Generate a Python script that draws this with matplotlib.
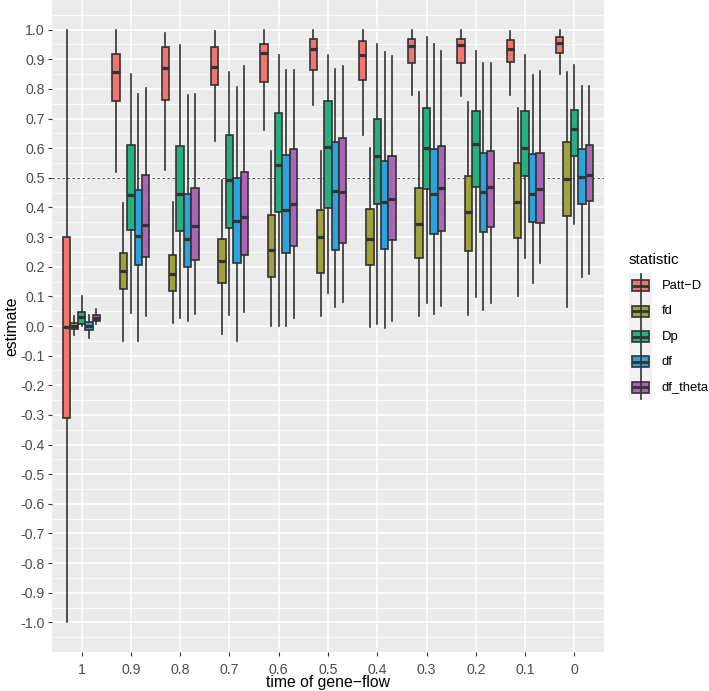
import numpy as np
import matplotlib.pyplot as plt
from matplotlib.patches import Rectangle

plt.rcParams["font.family"] = ["Liberation Sans", "DejaVu Sans"]

# ------------------------------------------------------------
# data (one row per statistic, 11 groups)
# ------------------------------------------------------------
groups = ["1", "0.9", "0.8", "0.7", "0.6", "0.5", "0.4", "0.3", "0.2", "0.1", "0"]
statistics = ["Patt\u2212D", "fd", "Dp", "df", "df_theta"]
colors = ["#F0766F", "#A0A33C", "#26AF7F", "#2BA3DC", "#A866B4"]

whisker_low = [
    [-1.0, 0.519, 0.527, 0.624, 0.662, 0.746, 0.645, 0.781, 0.776, 0.781, 0.851],
    [-0.03, -0.05, 0.01, -0.028, 0.0, 0.033, -0.003, 0.035, 0.037, 0.1, 0.064],
    [0.0, 0.044, 0.027, 0.036, 0.0, 0.112, 0.006, 0.078, 0.098, 0.229, 0.345],
    [-0.04, -0.05, 0.016, -0.05, 0.0, 0.064, -0.006, 0.042, 0.055, 0.145, 0.165],
    [0.006, 0.033, 0.042, 0.047, 0.027, 0.08, 0.017, 0.067, 0.078, 0.213, 0.176],
]
lower_q = [
    [-0.31, 0.758, 0.764, 0.813, 0.824, 0.863, 0.83, 0.888, 0.887, 0.89, 0.922],
    [-0.01, 0.125, 0.117, 0.146, 0.167, 0.179, 0.207, 0.228, 0.252, 0.298, 0.37],
    [0.008, 0.325, 0.322, 0.331, 0.384, 0.397, 0.411, 0.461, 0.469, 0.506, 0.572],
    [-0.012, 0.207, 0.2, 0.213, 0.246, 0.258, 0.261, 0.309, 0.316, 0.351, 0.412],
    [0.017, 0.234, 0.222, 0.238, 0.27, 0.279, 0.29, 0.32, 0.335, 0.348, 0.421],
]
median = [
    [-0.005, 0.856, 0.871, 0.875, 0.92, 0.933, 0.916, 0.945, 0.947, 0.936, 0.956],
    [0.0, 0.184, 0.176, 0.219, 0.255, 0.299, 0.292, 0.345, 0.385, 0.417, 0.497],
    [0.03, 0.443, 0.447, 0.493, 0.544, 0.604, 0.574, 0.599, 0.615, 0.599, 0.664],
    [0.0, 0.302, 0.294, 0.353, 0.39, 0.455, 0.417, 0.444, 0.452, 0.444, 0.503],
    [0.028, 0.342, 0.336, 0.367, 0.412, 0.451, 0.428, 0.467, 0.469, 0.462, 0.508],
]
upper_q = [
    [0.30, 0.918, 0.94, 0.943, 0.952, 0.969, 0.962, 0.97, 0.967, 0.965, 0.976],
    [0.01, 0.247, 0.238, 0.292, 0.373, 0.393, 0.394, 0.467, 0.506, 0.549, 0.62],
    [0.047, 0.612, 0.606, 0.646, 0.718, 0.758, 0.7, 0.735, 0.727, 0.727, 0.73],
    [0.013, 0.458, 0.445, 0.499, 0.578, 0.622, 0.558, 0.598, 0.584, 0.581, 0.598],
    [0.038, 0.511, 0.467, 0.519, 0.597, 0.636, 0.573, 0.608, 0.591, 0.584, 0.611],
]
whisker_high = [
    [1.0, 0.999, 0.99, 0.997, 0.999, 0.999, 0.999, 0.999, 0.999, 0.994, 1.0],
    [0.033, 0.415, 0.42, 0.491, 0.592, 0.592, 0.602, 0.789, 0.755, 0.736, 0.856],
    [0.10, 0.851, 0.949, 0.858, 0.915, 0.915, 0.953, 0.974, 0.927, 0.915, 0.881],
    [0.036, 0.783, 0.781, 0.806, 0.864, 0.867, 0.925, 0.952, 0.887, 0.847, 0.809],
    [0.059, 0.803, 0.783, 0.876, 0.864, 0.876, 0.91, 0.927, 0.887, 0.86, 0.809],
]

EDGE = "#333333"
BG = "#EBEBEB"
W, H = 709, 691

fig = plt.figure(figsize=(W / 100, H / 100), dpi=100)
ax = fig.add_axes([52 / W, 1 - 652 / H, 552 / W, 652 / H])
ax.set_facecolor(BG)
for s in ax.spines.values():
    s.set_visible(False)

# grid
major_y = np.round(np.arange(-1.0, 1.01, 0.1), 1)
ax.set_yticks(major_y)
ax.set_yticks(np.round(np.arange(-1.05, 1.1, 0.1), 2), minor=True)
ax.grid(True, which="major", axis="both", color="white", linewidth=1.1)
ax.grid(True, which="minor", axis="y", color="white", linewidth=0.55)
ax.set_axisbelow(True)

offsets = [-0.3, -0.15, 0.0, 0.15, 0.3]
base = np.arange(len(groups))
for k, name in enumerate(statistics):
    stats = []
    for g in range(len(groups)):
        stats.append({
            "whislo": whisker_low[k][g], "q1": lower_q[k][g],
            "med": median[k][g], "q3": upper_q[k][g],
            "whishi": whisker_high[k][g], "fliers": [],
        })
    ax.bxp(stats, positions=base + offsets[k], widths=0.15,
           patch_artist=True, showfliers=False, showcaps=False,
           boxprops=dict(facecolor=colors[k], edgecolor=EDGE, linewidth=1.2),
           medianprops=dict(color=EDGE, linewidth=2.3, solid_capstyle="butt"),
           whiskerprops=dict(color=EDGE, linewidth=1.2),
           manage_ticks=False)

ax.axhline(0.5, color=EDGE, linewidth=0.6, linestyle=(0, (3, 3)), zorder=1.5)

ax.set_xlim(-0.6, len(groups) - 0.4)
ax.set_ylim(-1.1, 1.1)
ax.set_xticks(base)
ax.set_xticklabels(groups)
ax.set_yticklabels([f"{v + 0.0:.1f}" for v in major_y])
ax.tick_params(which="major", length=2.7, width=0.8, color=EDGE,
               labelcolor="#4D4D4D", labelsize=10.2, pad=2.4)
ax.tick_params(axis="x", pad=5.0)
ax.tick_params(which="minor", length=0)

ax.set_xlabel("time of gene\u2212flow", fontsize=11.3)
ax.xaxis.set_label_coords(0.5, -(675.5 - 652) / 652)
ax.set_ylabel("estimate", fontsize=11.3, labelpad=1)

# legend drawn by hand on an overlay in pixel units (ggplot-style keys)
lax = fig.add_axes([0, 0, 1, 1], zorder=5)
lax.set_xlim(0, W)
lax.set_ylim(H, 0)
lax.axis("off")
key_x, key_w, key_h, key_top = 629, 23, 25.3, 273.3
lax.text(key_x, 259.5, "statistic", fontsize=11, va="center", ha="left")
lax.add_patch(Rectangle((key_x, key_top), key_w, key_h * len(statistics),
                        facecolor="#F2F2F2", edgecolor="none"))
for i, (name, c) in enumerate(zip(statistics, colors)):
    cy = key_top + key_h * (i + 0.5)
    cx = key_x + key_w / 2
    lax.plot([cx, cx], [cy - key_h / 2 + 0.5, cy + key_h / 2 - 0.5],
             color=EDGE, linewidth=1.2)
    lax.add_patch(Rectangle((key_x + 3, cy - 5.5), key_w - 6, 11,
                            facecolor=c, edgecolor=EDGE, linewidth=1.2))
    lax.plot([key_x + 3, key_x + key_w - 3], [cy, cy], color=EDGE,
             linewidth=2.0, solid_capstyle="butt")
    lax.text(661.5, cy, name, fontsize=9.4, va="center", ha="left")

fig.savefig("out.png", dpi=100)
